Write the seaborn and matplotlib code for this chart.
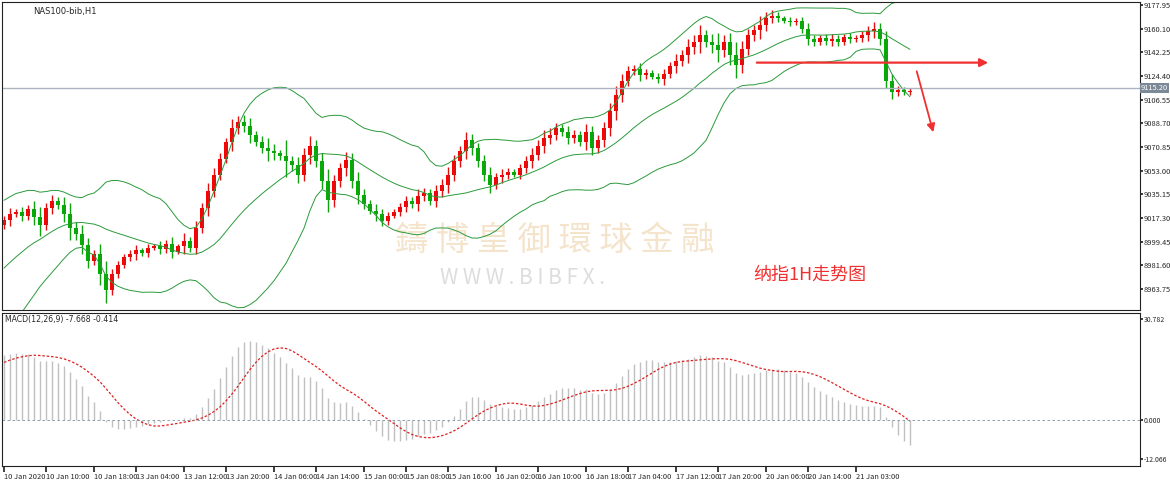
import numpy as np
import pandas as pd
import matplotlib
matplotlib.use("Agg")
import matplotlib.pyplot as plt
import seaborn as sns

sns.set_theme(style="white")
plt.rcParams["font.family"] = ["Noto Sans CJK SC", "DejaVu Sans"]

# earlier hourly closes (off-screen, only feed the indicators)
warmup = [8930, 8934, 8940, 8945, 8948, 8955, 8960, 8966, 8970, 8975,
          8980, 8984, 8990, 8994, 8998, 9002, 9005, 9008, 9010, 9012]
# hourly closes (NAS100, H1)
closes = [9016, 9020, 9022, 9019, 9024, 9018, 9012, 9025, 9030, 9027,
          9020, 9010, 9005, 8997, 8985, 8990, 8975, 8963, 8975, 8982,
          8988, 8990, 8993, 8991, 8995, 8996, 8994, 8998, 8992, 8996,
          9000, 8995, 9010, 9025, 9038, 9050, 9062, 9075, 9085, 9090,
          9087, 9080, 9075, 9070, 9068, 9066, 9064, 9060, 9057, 9050,
          9065, 9072, 9060, 9045, 9031, 9045, 9055, 9061, 9045, 9035,
          9028, 9023, 9020, 9015, 9019, 9022, 9026, 9030, 9028, 9034,
          9036, 9030, 9038, 9042, 9050, 9060, 9068, 9076, 9070, 9060,
          9050, 9042, 9048, 9050, 9052, 9050, 9055, 9060, 9065, 9072,
          9078, 9080, 9085, 9082, 9078, 9080, 9075, 9082, 9070, 9076,
          9085, 9098, 9110, 9121, 9128, 9130, 9125, 9127, 9124, 9122,
          9126, 9132, 9136, 9140, 9146, 9150, 9155, 9150, 9148, 9144,
          9150, 9140, 9133, 9145, 9155, 9159, 9163, 9168, 9170, 9168,
          9166, 9165, 9166, 9160, 9152, 9150, 9153, 9151, 9152, 9150,
          9154, 9152, 9153, 9155, 9158, 9160, 9152, 9121, 9112, 9114,
          9112, 9113]
wicks = [3, 5, 2, 4, 3, 6, 8, 4, 5, 3, 6, 9, 4, 7, 5, 3, 8, 10, 4, 3,
         2, 3, 4, 2, 3, 2, 4, 3, 5, 2, 6, 3, 5, 4, 6, 5, 4, 3, 7, 4,
         5, 6, 3, 4, 8, 5, 3, 12, 4, 6, 5, 7, 4, 6, 9, 5, 4, 6, 5, 7,
         4, 3, 5, 4, 3, 2, 3, 4, 3, 5, 4, 3, 4, 5, 6, 5, 4, 6, 5, 4,
         5, 6, 3, 4, 3, 2, 3, 4, 5, 4, 6, 5, 4, 3, 5, 4, 3, 6, 5, 4,
         5, 6, 7, 5, 4, 3, 4, 3, 2, 3, 4, 3, 5, 4, 6, 5, 8, 4, 6, 9,
         5, 7, 10, 6, 5, 4, 7, 5, 4, 3, 2, 3, 2, 3, 4, 3, 2, 3, 4, 3,
         2, 3, 2, 3, 4, 5, 4, 6, 5, 3, 2, 2]
tick_labels = ["10 Jan 2020", "10 Jan 10:00", "10 Jan 18:00", "13 Jan 04:00",
               "13 Jan 12:00", "13 Jan 20:00", "14 Jan 06:00", "14 Jan 14:00",
               "15 Jan 00:00", "15 Jan 08:00", "15 Jan 16:00", "16 Jan 02:00",
               "16 Jan 10:00", "16 Jan 18:00", "17 Jan 04:00", "17 Jan 12:00",
               "17 Jan 20:00", "20 Jan 06:00", "20 Jan 14:00", "21 Jan 03:00"]
tick_bars = [0, 7, 15, 22, 30, 37, 45, 52, 60, 67, 74, 82, 89, 97, 104,
             112, 119, 127, 134, 142]
price_ticks = [9177.95, 9160.10, 9142.25, 9124.40, 9106.55, 9088.70, 9070.85,
               9053.00, 9035.15, 9017.30, 8999.45, 8981.60, 8963.75]
last_price = 9115.20

n0 = len(warmup)
full = pd.Series(warmup + closes, dtype=float)
c = full.iloc[n0:].reset_index(drop=True)
o = full.shift(1).iloc[n0:].reset_index(drop=True)
w = np.array(wicks, dtype=float)
hi = np.maximum(o, c) + w
lo = np.minimum(o, c) - w
idx = np.arange(len(c))
# indicators computed from the closes
mid = full.rolling(20, min_periods=1).mean().iloc[n0:].values
sd = full.rolling(20, min_periods=1).std(ddof=0).iloc[n0:].values
bands = pd.DataFrame({"i": idx, "mid": mid, "up": mid + 2 * sd, "dn": mid - 2 * sd})
macd_f = full.ewm(span=12, adjust=False).mean() - full.ewm(span=26, adjust=False).mean()
sig_f = macd_f.rolling(9, min_periods=1).mean()
macd = macd_f.iloc[n0:].values
signal = sig_f.iloc[n0:].values

W, H = 1170, 491
fig = plt.figure(figsize=(W / 100, H / 100), dpi=100)
L, R = 2 / W, 1140 / W
ax = fig.add_axes([L, 1 - 310 / H, R - L, 308 / H])
ax2 = fig.add_axes([L, 1 - 466 / H, R - L, 153 / H])
xmax = (1140 - 4) / 6
for a in (ax, ax2):
    a.set_xlim(-0.33, xmax)
    a.tick_params(left=False, labelleft=False, bottom=False, labelbottom=False)
    for s in a.spines.values():
        s.set_color("#222222"); s.set_linewidth(0.8)

# price pane
ax.set_ylim(8948.0, 9180.2)
up = (c >= o).values
ax.vlines(idx, lo, hi, color=np.where(up, "#e01010", "#10a010"), lw=1)
ax.bar(idx[up], (c - o)[up], bottom=o[up], width=0.6, color="#ff0000", lw=0)
ax.bar(idx[~up], (o - c)[~up], bottom=c[~up], width=0.6, color="#00b000", lw=0)
for col in ["mid", "up", "dn"]:
    sns.lineplot(data=bands, x="i", y=col, ax=ax, color="#2a9a3a", lw=0.7)
ax.set_xlabel(""); ax.set_ylabel("")
ax.axhline(last_price, color="#aab4c0", lw=1)
ax.yaxis.tick_right()
ax.set_yticks(price_ticks)
ax.set_yticklabels([f"{v:.2f}" for v in price_ticks])
ax.tick_params(right=True, labelright=True, length=2, labelsize=5.4, pad=0.5)
ax.text(1.0005, last_price, f"{last_price:.2f}", transform=ax.get_yaxis_transform(),
        fontsize=5.4, va="center", ha="left", color="white",
        bbox=dict(boxstyle="square,pad=0.1", fc="#7a8898", ec="none"))
ax.text(0.027, 0.985, "NAS100-bib,H1", transform=ax.transAxes, fontsize=6,
        va="top", family=["DejaVu Sans"])

# annotations
ax.annotate("", xy=(164.5, 9134.5), xytext=(125, 9134.5),
            arrowprops=dict(arrowstyle="-|>", color="#f03030", lw=1.6))
ax.annotate("", xy=(155, 9080), xytext=(152, 9130),
            arrowprops=dict(arrowstyle="-|>", color="#f03030", lw=1.3))
ax.text(0.345, 0.225, "鑄 博 皇 御 環 球 金 融", transform=ax.transAxes, fontsize=24,
        color="#f5e4cc", ha="left", va="center", zorder=0)
ax.text(0.385, 0.105, "W W W . B I B F X .", transform=ax.transAxes, fontsize=15,
        color="#dddddd", ha="left", va="center", zorder=0)
ax.text(0.66, 0.115, "纳指1H走势图", transform=ax.transAxes, fontsize=13,
        color="#f03030", ha="left", va="center")

# MACD pane
ax2.set_ylim(-14.1, 32.5)
ax2.vlines(idx, 0, macd, color="#c0c0c0", lw=1)
sns.lineplot(x=idx, y=signal, ax=ax2, color="#e02020", lw=0.9, linestyle=(0, (2, 1.5)))
ax2.axhline(0, color="#8090a0", lw=0.6, ls=(0, (3, 3)))
ax2.yaxis.tick_right()
ax2.set_yticks([30.782, 0.0, -12.066])
ax2.set_yticklabels(["30.782", "0.000", "-12.066"])
ax2.tick_params(right=True, labelright=True, length=2, labelsize=5.0, pad=0.5)
ax2.text(0.003, 0.985, f"MACD(12,26,9) {macd[-1]:.3f} {signal[-1]:.3f}",
         transform=ax2.transAxes, fontsize=5.6, va="top", family=["DejaVu Sans"])

# time axis
ax2.set_xticks(tick_bars)
ax2.set_xticklabels(tick_labels)
ax2.tick_params(axis="x", bottom=True, labelbottom=True, length=4, labelsize=5.4, pad=1,
                direction="out")
for t in ax2.get_xticklabels():
    t.set_horizontalalignment("left")

fig.savefig("out.png", dpi=100, facecolor="white")
